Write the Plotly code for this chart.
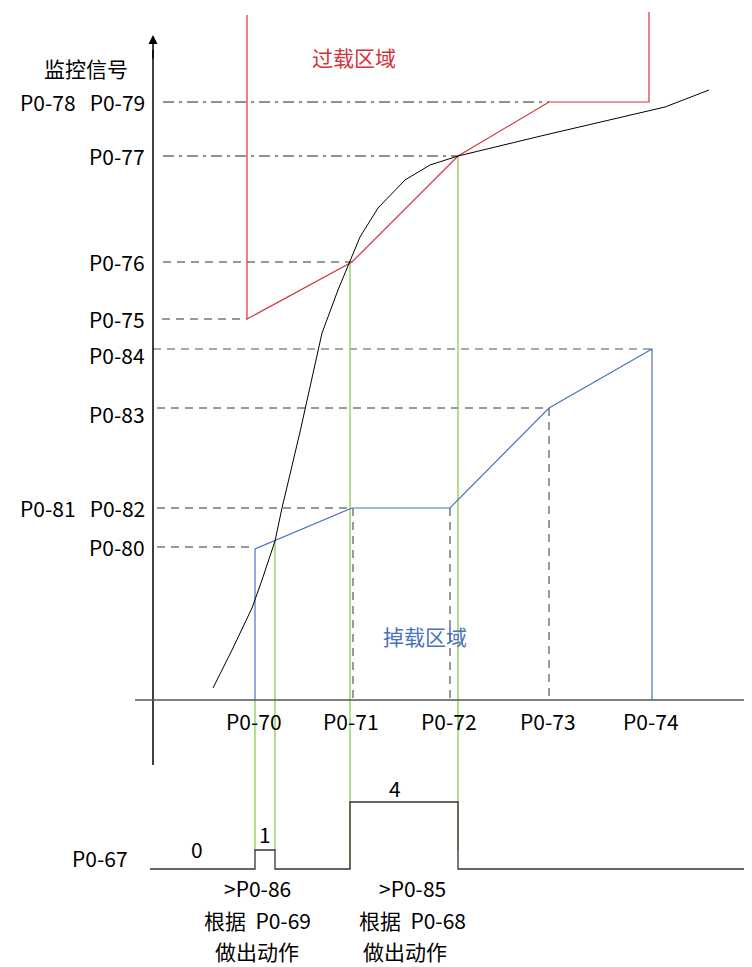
import plotly.graph_objects as go

# diagram coordinates (x to the right, y downward, same scale as the page)
x_names = ["P0-70", "P0-71", "P0-72", "P0-73", "P0-74"]
x_vals = [255, 352, 450, 549, 652]

y_names = ["P0-78&nbsp;&nbsp;&nbsp;P0-79", "P0-77", "P0-76", "P0-75", "P0-84", "P0-83",
           "P0-81&nbsp;&nbsp;&nbsp;P0-82", "P0-80"]
y_vals = [102, 156, 262, 319, 349, 408, 508, 547]

# overload limit (red)
red_x = [247, 247, 352, 458, 549, 649, 649]
red_y = [15, 319, 262, 156, 102, 102, 12]

# underload limit (blue)
blue_x = [255, 255, 352, 450, 549, 652, 652]
blue_y = [700, 549, 508, 508, 408, 349, 700]

# monitored signal (black curve)
sig_x = [213, 232, 252, 262, 275, 282, 300, 322, 338, 350, 360, 378, 405, 430, 458, 545, 600, 665, 709]
sig_y = [688, 650, 608, 580, 541, 508, 432, 333, 290, 262, 237, 208, 180, 165, 156, 135, 122, 107, 90]

# P0-67 state
state_x = [150, 255, 255, 275, 275, 350, 350, 458, 458, 752]
state_y = [869, 869, 850, 850, 869, 869, 802, 802, 869, 869]
state_vals = ["0", "1", "4"]

RED = "#d2343c"
BLUE = "#4a72c0"
GREEN = "#98d468"
FONT = "Noto Sans CJK SC"

fig = go.Figure()


def seg(xs, ys, color="black", width=1.2, dash="solid"):
    fig.add_trace(go.Scatter(x=xs, y=ys, mode="lines", hoverinfo="skip",
                             line=dict(color=color, width=width, dash=dash)))


DD = "11px,5px,3px,5px"
DS = "8px,6px"

# horizontal guides
seg([163, 549], [y_vals[0]] * 2, "#222", 1, DD)
seg([163, 458], [y_vals[1]] * 2, "#222", 1, DD)
seg([163, 352], [y_vals[2]] * 2, "#333", 1, DS)
seg([162, 247], [y_vals[3]] * 2, "#333", 1, DS)
seg([153, 652], [y_vals[4]] * 2, "#555", 1.2, DS)
seg([157, 549], [y_vals[5]] * 2, "#333", 1, DS)
seg([157, 352], [y_vals[6]] * 2, "#333", 1, DS)
seg([157, 255], [y_vals[7]] * 2, "#333", 1, DS)

# vertical guides
seg([353, 353], [508, 700], "#333", 1, DS)
seg([450, 450], [508, 700], "#333", 1, DS)
seg([549, 549], [408, 700], "#333", 1, DS)

# green markers
seg([255, 255], [700, 850], GREEN, 1.5)
seg([275, 275], [541, 850], GREEN, 1.5)
seg([350, 350], [262, 869], GREEN, 1.5)
seg([458, 458], [156, 850], GREEN, 1.5)

# curves
seg(red_x, red_y, RED, 1.2)
seg(blue_x, blue_y, BLUE, 1.2)
seg(sig_x, sig_y, "black", 1)
seg(state_x, state_y, "#333", 1.3)

# axes
seg([153, 153], [50, 765], "black", 1.5)
seg([135, 752], [700, 700], "#555", 1.5)
fig.add_annotation(x=153, y=35, ax=153, ay=60, xref="x", yref="y", axref="x", ayref="y",
                   showarrow=True, arrowhead=2, arrowsize=1.2, arrowwidth=1.5,
                   arrowcolor="black", text="")


def label(x, y, text, color="black", anchor="center", size=21):
    fig.add_annotation(x=x, y=y, text=text, showarrow=False, xanchor=anchor,
                       font=dict(family=FONT, size=size, color=color))


for name, yv in zip(y_names, y_vals):
    dy = 6 if name in ("P0-84", "P0-83") else 0
    label(147, yv + dy, name, anchor="right")
for name, xv in zip(x_names, x_vals):
    label(xv - 1, 721, name)

label(86, 68, "监控信号")
label(354, 57, "过载区域", RED)
label(425, 636, "掉载区域", BLUE)
label(100, 858, "P0-67")
label(197, 849, state_vals[0])
label(265, 834, state_vals[1])
label(395, 788, state_vals[2])
label(257, 888, "&gt;P0-86")
label(257, 920, "根据&nbsp;&nbsp;P0-69")
label(257, 951, "做出动作")
label(412, 888, "&gt;P0-85")
label(412, 920, "根据&nbsp;&nbsp;P0-68")
label(405, 951, "做出动作")

# the page body has an 8px margin, so the figure starts at (8, 8)
fig.update_layout(
    width=744, height=959, margin=dict(l=0, r=0, t=0, b=0),
    plot_bgcolor="white", paper_bgcolor="white", showlegend=False,
    xaxis=dict(range=[8, 752], visible=False, fixedrange=True),
    yaxis=dict(range=[967, 8], visible=False, fixedrange=True),
)
fig.write_html("out.html")
